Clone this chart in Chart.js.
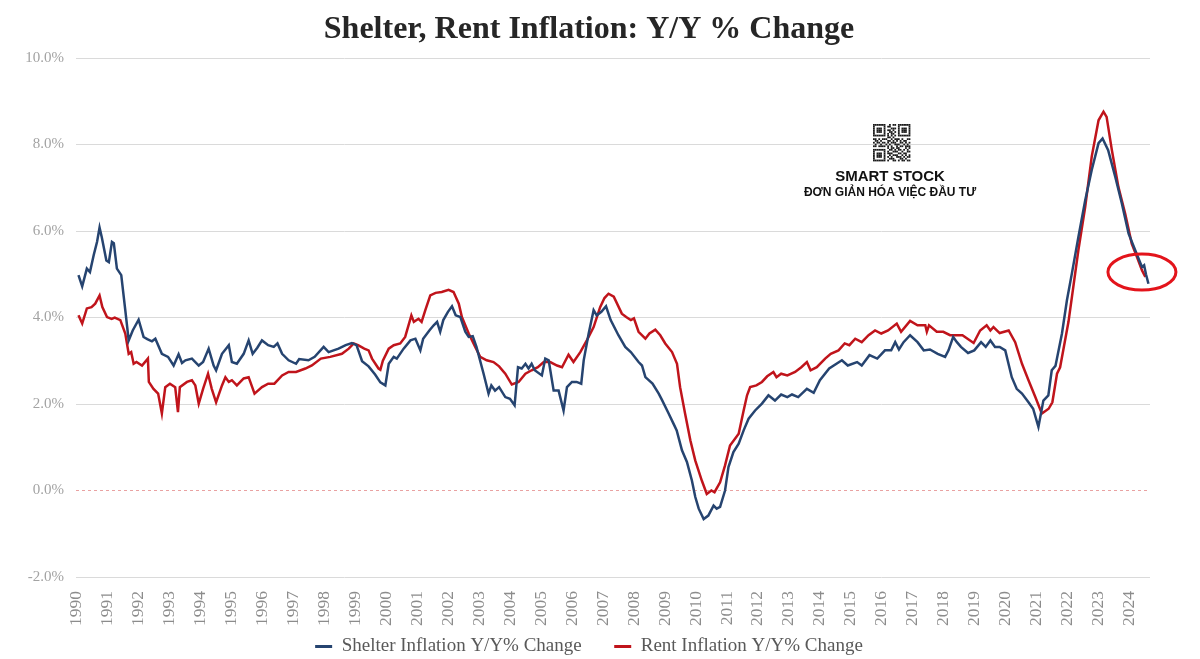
<!DOCTYPE html>
<html>
<head>
<meta charset="utf-8">
<title>Shelter, Rent Inflation: Y/Y % Change</title>
<script src="https://cdn.jsdelivr.net/npm/chart.js@4.4.0/dist/chart.umd.min.js"></script>
<style>
  html, body { margin: 0; padding: 0; background: #fff; }
  #wrap { width: 1200px; height: 659px; }
</style>
</head>
<body>
<div id="wrap"><canvas id="chart" width="1200" height="659"></canvas></div>
<script>
// values: [year (fractional), y/y % change]
const shelterSeries = [
  [1990.08, 4.98], [1990.2, 4.72], [1990.35, 5.13], [1990.45, 5.05], [1990.57, 5.44], [1990.68, 5.75],
  [1990.76, 6.08], [1990.83, 5.86], [1990.98, 5.32], [1991.06, 5.28], [1991.16, 5.75], [1991.22, 5.72],
  [1991.32, 5.13], [1991.46, 4.98], [1991.59, 4.17], [1991.7, 3.47], [1991.83, 3.7], [1992.02, 3.95],
  [1992.18, 3.55], [1992.3, 3.5], [1992.45, 3.45], [1992.56, 3.51], [1992.77, 3.16], [1992.97, 3.09],
  [1993.15, 2.89], [1993.31, 3.15], [1993.42, 2.95], [1993.53, 3.01], [1993.74, 3.05], [1993.96, 2.89],
  [1994.1, 2.97], [1994.28, 3.28], [1994.44, 2.89], [1994.52, 2.78], [1994.71, 3.16], [1994.93, 3.36],
  [1995.03, 2.97], [1995.19, 2.93], [1995.41, 3.16], [1995.57, 3.47], [1995.7, 3.16], [1995.85, 3.3],
  [1996.0, 3.47], [1996.2, 3.36], [1996.38, 3.32], [1996.5, 3.4], [1996.65, 3.16], [1996.86, 3.01],
  [1997.1, 2.93], [1997.2, 3.04], [1997.5, 3.01], [1997.7, 3.09], [1997.99, 3.32], [1998.15, 3.2],
  [1998.47, 3.28], [1998.7, 3.36], [1998.9, 3.41], [1999.05, 3.36], [1999.23, 2.99], [1999.44, 2.87],
  [1999.65, 2.68], [1999.82, 2.5], [1999.98, 2.43], [2000.09, 2.93], [2000.25, 3.09], [2000.35, 3.05],
  [2000.57, 3.28], [2000.79, 3.47], [2000.95, 3.51], [2001.11, 3.24], [2001.2, 3.51], [2001.4, 3.7],
  [2001.54, 3.82], [2001.65, 3.9], [2001.75, 3.67], [2001.85, 3.94], [2002.0, 4.13], [2002.13, 4.26],
  [2002.25, 4.05], [2002.4, 4.01], [2002.56, 3.67], [2002.67, 3.55], [2002.8, 3.57], [2002.92, 3.32],
  [2003.15, 2.7], [2003.31, 2.24], [2003.4, 2.43], [2003.52, 2.31], [2003.65, 2.39], [2003.85, 2.16],
  [2004.0, 2.12], [2004.15, 1.97], [2004.26, 2.85], [2004.38, 2.82], [2004.5, 2.93], [2004.6, 2.82],
  [2004.7, 2.93], [2004.8, 2.78], [2005.03, 2.66], [2005.14, 3.05], [2005.25, 3.01], [2005.41, 2.31],
  [2005.57, 2.31], [2005.73, 1.85], [2005.84, 2.39], [2006.0, 2.51], [2006.15, 2.51], [2006.3, 2.47],
  [2006.38, 3.01], [2006.54, 3.63], [2006.7, 4.17], [2006.8, 4.05], [2006.95, 4.13], [2007.1, 4.26],
  [2007.25, 3.94], [2007.5, 3.59], [2007.72, 3.32], [2007.9, 3.2], [2008.15, 2.97], [2008.26, 2.89],
  [2008.37, 2.62], [2008.6, 2.47], [2008.8, 2.24], [2008.9, 2.1], [2009.12, 1.78], [2009.28, 1.54],
  [2009.38, 1.39], [2009.55, 0.93], [2009.71, 0.66], [2009.87, 0.23], [2009.98, -0.15], [2010.09, -0.42],
  [2010.25, -0.66], [2010.4, -0.58], [2010.57, -0.35], [2010.67, -0.42], [2010.78, -0.38], [2010.94, 0.0],
  [2011.05, 0.54], [2011.21, 0.89], [2011.38, 1.08], [2011.54, 1.39], [2011.7, 1.66], [2011.91, 1.85],
  [2012.13, 2.01], [2012.34, 2.2], [2012.55, 2.08], [2012.75, 2.22], [2012.95, 2.16], [2013.1, 2.22],
  [2013.3, 2.16], [2013.58, 2.35], [2013.8, 2.26], [2014.0, 2.55], [2014.3, 2.82], [2014.71, 3.01],
  [2014.9, 2.89], [2015.2, 2.97], [2015.35, 2.89], [2015.6, 3.13], [2015.85, 3.05], [2016.1, 3.24],
  [2016.3, 3.24], [2016.43, 3.43], [2016.55, 3.26], [2016.7, 3.43], [2016.91, 3.59], [2017.15, 3.43],
  [2017.35, 3.24], [2017.55, 3.26], [2017.8, 3.16], [2018.04, 3.09], [2018.15, 3.24], [2018.3, 3.55],
  [2018.42, 3.43], [2018.55, 3.32], [2018.78, 3.18], [2018.98, 3.24], [2019.2, 3.43], [2019.35, 3.32],
  [2019.5, 3.47], [2019.65, 3.32], [2019.8, 3.32], [2019.98, 3.24], [2020.19, 2.62], [2020.35, 2.35],
  [2020.52, 2.24], [2020.73, 2.04], [2020.88, 1.89], [2021.05, 1.47], [2021.21, 2.08], [2021.37, 2.2],
  [2021.48, 2.78], [2021.6, 2.88], [2021.81, 3.63], [2021.97, 4.4], [2022.13, 5.02], [2022.34, 5.86],
  [2022.56, 6.71], [2022.77, 7.41], [2022.99, 8.03], [2023.12, 8.14], [2023.3, 7.87], [2023.53, 7.25],
  [2023.74, 6.64], [2023.96, 5.94], [2024.17, 5.56], [2024.39, 5.17], [2024.46, 5.21], [2024.52, 5.0],
  [2024.6, 4.78]
];

const rentSeries = [
  [1990.08, 4.05], [1990.2, 3.86], [1990.35, 4.21], [1990.5, 4.24], [1990.62, 4.32], [1990.76, 4.51],
  [1990.85, 4.24], [1991.0, 4.01], [1991.15, 3.97], [1991.25, 4.0], [1991.43, 3.94], [1991.59, 3.63],
  [1991.7, 3.16], [1991.78, 3.2], [1991.86, 2.93], [1991.95, 2.97], [1992.13, 2.89], [1992.32, 3.05],
  [1992.35, 2.51], [1992.5, 2.35], [1992.65, 2.24], [1992.77, 1.78], [1992.88, 2.39], [1993.03, 2.47],
  [1993.2, 2.39], [1993.29, 1.81], [1993.35, 2.39], [1993.58, 2.51], [1993.74, 2.55], [1993.85, 2.43],
  [1993.96, 2.01], [1994.1, 2.35], [1994.26, 2.7], [1994.38, 2.35], [1994.52, 2.04], [1994.71, 2.43],
  [1994.82, 2.62], [1994.93, 2.51], [1995.03, 2.55], [1995.19, 2.43], [1995.41, 2.59], [1995.57, 2.62],
  [1995.76, 2.24], [1996.0, 2.39], [1996.2, 2.47], [1996.4, 2.47], [1996.65, 2.66], [1996.86, 2.74],
  [1997.1, 2.74], [1997.4, 2.82], [1997.61, 2.89], [1997.9, 3.05], [1998.2, 3.09], [1998.58, 3.16],
  [1998.8, 3.28], [1998.96, 3.4], [1999.1, 3.36], [1999.3, 3.28], [1999.44, 3.24], [1999.55, 3.05],
  [1999.76, 2.82], [1999.82, 2.79], [1999.9, 3.0], [2000.09, 3.28], [2000.25, 3.36], [2000.46, 3.4],
  [2000.62, 3.55], [2000.82, 4.05], [2000.9, 3.9], [2001.05, 3.97], [2001.15, 3.9], [2001.27, 4.17],
  [2001.43, 4.51], [2001.6, 4.57], [2001.8, 4.59], [2002.02, 4.64], [2002.18, 4.59], [2002.35, 4.32],
  [2002.45, 4.01], [2002.67, 3.63], [2002.88, 3.32], [2003.04, 3.09], [2003.25, 3.01], [2003.47, 2.97],
  [2003.65, 2.87], [2003.85, 2.7], [2004.06, 2.45], [2004.28, 2.51], [2004.5, 2.7], [2004.7, 2.78],
  [2004.9, 2.85], [2005.09, 2.97], [2005.3, 2.97], [2005.52, 2.89], [2005.68, 2.85], [2005.89, 3.14],
  [2006.05, 2.97], [2006.27, 3.2], [2006.48, 3.47], [2006.7, 3.78], [2006.91, 4.24], [2007.05, 4.45],
  [2007.18, 4.55], [2007.35, 4.48], [2007.61, 4.09], [2007.75, 4.01], [2007.9, 3.94], [2008.0, 3.98],
  [2008.15, 3.67], [2008.37, 3.51], [2008.5, 3.63], [2008.69, 3.72], [2008.85, 3.59], [2009.01, 3.4],
  [2009.23, 3.2], [2009.39, 2.93], [2009.49, 2.39], [2009.65, 1.78], [2009.82, 1.16], [2009.98, 0.69],
  [2010.19, 0.23], [2010.35, -0.08], [2010.5, 0.0], [2010.6, -0.04], [2010.78, 0.19], [2010.94, 0.58],
  [2011.1, 1.04], [2011.38, 1.31], [2011.54, 1.85], [2011.65, 2.2], [2011.75, 2.39], [2011.95, 2.43],
  [2012.13, 2.51], [2012.3, 2.64], [2012.5, 2.74], [2012.6, 2.62], [2012.75, 2.7], [2012.95, 2.66],
  [2013.2, 2.74], [2013.4, 2.85], [2013.58, 2.97], [2013.7, 2.78], [2013.9, 2.85], [2014.17, 3.05],
  [2014.35, 3.16], [2014.6, 3.24], [2014.8, 3.4], [2014.95, 3.36], [2015.14, 3.51], [2015.35, 3.43],
  [2015.57, 3.59], [2015.78, 3.7], [2015.98, 3.63], [2016.2, 3.7], [2016.48, 3.86], [2016.62, 3.67],
  [2016.91, 3.92], [2017.15, 3.82], [2017.4, 3.82], [2017.45, 3.67], [2017.52, 3.82], [2017.77, 3.67],
  [2017.98, 3.67], [2018.2, 3.59], [2018.45, 3.59], [2018.6, 3.59], [2018.96, 3.41], [2019.17, 3.7],
  [2019.38, 3.82], [2019.5, 3.7], [2019.6, 3.78], [2019.8, 3.64], [2020.09, 3.7], [2020.3, 3.43],
  [2020.52, 2.93], [2020.73, 2.55], [2020.95, 2.16], [2021.16, 1.78], [2021.38, 1.89], [2021.5, 2.04],
  [2021.65, 2.7], [2021.75, 2.85], [2022.02, 3.9], [2022.34, 5.56], [2022.56, 6.56], [2022.77, 7.72],
  [2022.99, 8.56], [2023.15, 8.76], [2023.25, 8.64], [2023.42, 7.87], [2023.63, 7.02], [2023.85, 6.4],
  [2024.06, 5.71], [2024.23, 5.4], [2024.39, 5.09], [2024.5, 4.94]
];

const xYears = [];
for (let y = 1990; y <= 2024; y++) xYears.push(y); // year tick labels 1990..2024
const yTicks = [-2, 0, 2, 4, 6, 8, 10];
const seriesLabels = ['Shelter Inflation Y/Y% Change', 'Rent Inflation Y/Y% Change'];
const xMin = 1990, xMax = 2024.65;
const circleAt = [2024.39, 5.05]; // red ring drawn around the latest readings

// little QR-like block for the watermark
const qrRows = [
  '111111100101101111111',
  '100000101100001000001',
  '101110100011101011101',
  '101110101101001011101',
  '101110100110101011101',
  '100000101011001000001',
  '111111101010101111111',
  '000000001101000000000',
  '110101110010111010011',
  '011010001101010101100',
  '101101101011100110101',
  '010010010100111001010',
  '110111101010010110111',
  '000000001011011000101',
  '111111100110101101010',
  '100000101001110010011',
  '101110101110001101100',
  '101110100101110010101',
  '101110101010011101011',
  '100000100111000110100',
  '111111101001101011011'
];

const toPoints = s => s.map(p => ({ x: p[0], y: p[1] }));

const watermark = {
  id: 'watermark',
  afterDraw(chart) {
    const ctx = chart.ctx;
    ctx.save();
    const cell = 1.78, qx = 873, qy = 124;
    ctx.fillStyle = '#1a1a1a';
    qrRows.forEach((row, r) => {
      for (let c = 0; c < row.length; c++) {
        if (row[c] === '1') ctx.fillRect(qx + c * cell, qy + r * cell, cell, cell);
      }
    });
    ctx.fillStyle = '#111';
    ctx.textAlign = 'center';
    ctx.textBaseline = 'middle';
    ctx.font = 'bold 15px "Liberation Sans", Arial, sans-serif';
    ctx.fillText('SMART STOCK', 890, 177);
    ctx.font = 'bold 12px "Liberation Sans", Arial, sans-serif';
    ctx.fillText('ĐƠN GIẢN HÓA VIỆC ĐẦU TƯ', 890, 193);
    ctx.restore();
  }
};

const redRing = {
  id: 'redRing',
  afterDatasetsDraw(chart) {
    const { ctx, scales } = chart;
    const cx = scales.x.getPixelForValue(circleAt[0]);
    const cy = scales.y.getPixelForValue(circleAt[1]);
    ctx.save();
    ctx.strokeStyle = '#E3141B';
    ctx.lineWidth = 3;
    ctx.beginPath();
    ctx.ellipse(cx, cy, 34, 18, 0, 0, Math.PI * 2);
    ctx.stroke();
    ctx.restore();
  }
};

const serif = '"Liberation Serif", "Times New Roman", serif';

new Chart(document.getElementById('chart'), {
  type: 'line',
  data: {
    datasets: [
      {
        label: seriesLabels[0],
        data: toPoints(shelterSeries),
        borderColor: '#264470',
        backgroundColor: '#264470',
        borderWidth: 2.5,
        pointRadius: 0,
        tension: 0
      },
      {
        label: seriesLabels[1],
        data: toPoints(rentSeries),
        borderColor: '#C0141B',
        backgroundColor: '#C0141B',
        borderWidth: 2.5,
        pointRadius: 0,
        tension: 0
      },
      {
        label: 'zero',
        data: [{ x: xMin, y: 0 }, { x: xMax, y: 0 }],
        borderColor: '#E9A2A2',
        borderWidth: 1,
        borderDash: [3, 3],
        pointRadius: 0,
        order: 5
      }
    ]
  },
  options: {
    responsive: false,
    animation: false,
    devicePixelRatio: 1,
    layout: { padding: { top: 0, right: 22, bottom: -7, left: 0 } },
    plugins: {
      title: {
        display: true,
        text: 'Shelter, Rent Inflation: Y/Y % Change',
        color: '#262626',
        font: { family: serif, size: 32, weight: 'bold' },
        padding: { top: 11, bottom: 8.6 }
      },
      legend: {
        position: 'bottom',
        labels: {
          color: '#595959',
          font: { family: serif, size: 19 },
          boxWidth: 17,
          boxHeight: 3,
          padding: 4,
          generateLabels: chart => chart.data.datasets.slice(0, 2).map((ds, i) => ({
            text: ds.label + (i === 0 ? '      ' : ''),
            fillStyle: ds.borderColor,
            strokeStyle: ds.borderColor,
            lineWidth: 0,
            fontColor: '#595959',
            datasetIndex: i,
            hidden: false
          }))
        }
      },
      tooltip: { enabled: false }
    },
    scales: {
      x: {
        type: 'linear',
        min: xMin,
        max: xMax,
        grid: { display: false },
        border: { display: false },
        afterBuildTicks: scale => { scale.ticks = xYears.map(v => ({ value: v })); },
        afterFit: scale => { scale.height = 56; },
        ticks: {
          autoSkip: false,
          minRotation: 90,
          maxRotation: 90,
          padding: 6,
          color: '#8C8C8C',
          font: { family: serif, size: 17.5 },
          callback: v => String(v)
        }
      },
      y: {
        min: -2,
        max: 10,
        afterBuildTicks: scale => { scale.ticks = yTicks.map(v => ({ value: v })); },
        afterFit: scale => { scale.width = 76; },
        border: { display: false },
        grid: {
          drawTicks: false,
          color: c => (c.tick && c.tick.value === 0 ? 'rgba(0,0,0,0)' : '#DADADA'),
          lineWidth: 1
        },
        ticks: {
          padding: 12,
          color: '#A3A3A3',
          font: { family: serif, size: 15 },
          callback: v => v.toFixed(1) + '%'
        }
      },
      yr: {
        position: 'right',
        min: -2,
        max: 10,
        grid: { display: false },
        border: { display: false },
        ticks: { display: false },
        afterFit: scale => { scale.width = 28; }
      }
    }
  },
  plugins: [redRing, watermark]
});
</script>
</body>
</html>
